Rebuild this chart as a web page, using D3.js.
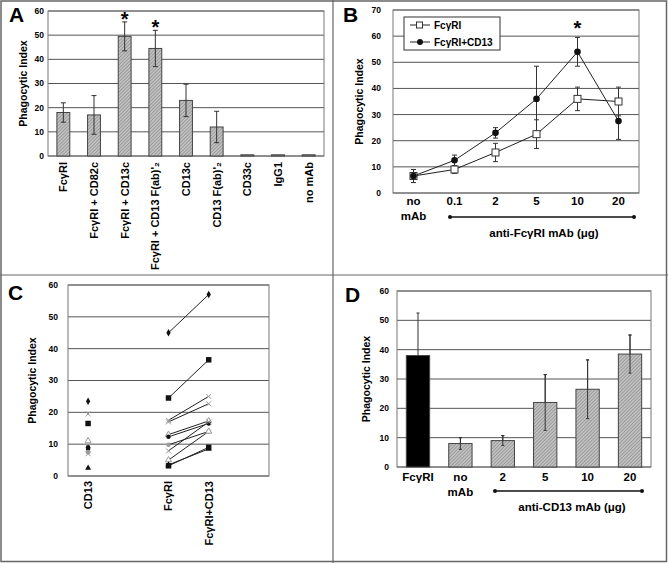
<!DOCTYPE html>
<html>
<head>
<meta charset="utf-8">
<script src="https://cdn.jsdelivr.net/npm/d3@7"></script>
<style>
  body { margin: 0; background: #fff; }
  svg { display: block; font-family: "Liberation Sans", Arial, sans-serif; font-weight: bold; }
</style>
</head>
<body>
<div id="chart"></div>
<script>
// ---- data ----
// panel A
const catsA = ["FcγRI", "FcγRI + CD82c", "FcγRI + CD13c", "FcγRI + CD13 F(ab)'₂", "CD13c", "CD13 F(ab)'₂", "CD33c", "IgG1", "no mAb"];
const valsA = [18, 17, 49.5, 44.5, 23, 12, 0.5, 0.5, 0.5];
const errA  = [4, 8, 6, 7.5, 6.7, 6.5, 0, 0, 0];
const starsA = [2, 3];

// panel B
const catsB = ["no mAb", "0.1", "2", "5", "10", "20"];
const fcgrB = [6.5, 9, 15.5, 22.5, 36, 35];
const fcgrErrB = [2.5, 1.5, 3.5, 5.5, 4.5, 5.5];
const cd13B = [6.5, 12.5, 23, 36, 54, 27.5];
const cd13ErrB = [2.5, 2, 2, 12.5, 5.5, 7];

// panel C
const slotsC = ["CD13", "", "FcγRI", "FcγRI+CD13", " "];
const cd13C = [23.5, 19.5, 16.5, 11, 9, 8.5, 7.5, 7, 2.5];
const cd13Sym = ["diamond", "x", "square", "tri-open", "circle", "circle", "circle-grey", "x", "triangle"];
const fcgrC = [45, 24.5, 17.5, 17, 13, 12.3, 9.8, 7.9, 5, 3.5, 3.2];
const fcgrCd13C = [57, 36.5, 25, 22.7, 17.3, 16.5, 14, 17, 14, 8.5, 9];
const pairSym = ["diamond", "square", "x", "x-grey", "tri-open", "circle", "circle-grey", "x", "tri-open", "triangle", "square"];

// panel D
const catsD = ["FcγRI", "no mAb", "2", "5", "10", "20"];
const valsD = [38, 8, 9, 22, 26.5, 38.5];
const errD  = [14.5, 2, 1.7, 9.5, 10, 6.5];

const W = 668, H = 563;
const svg = d3.select("#chart").append("svg").attr("width", W).attr("height", H);

const defs = svg.append("defs");
const pat = defs.append("pattern").attr("id", "hatch")
  .attr("width", 2.4).attr("height", 2.4)
  .attr("patternUnits", "userSpaceOnUse")
  .attr("patternTransform", "rotate(45)");
pat.append("rect").attr("width", 2.4).attr("height", 2.4).attr("fill", "#c0c0c0");
pat.append("line").attr("x1", 0).attr("y1", 0).attr("x2", 0).attr("y2", 2.4)
  .attr("stroke", "#858585").attr("stroke-width", 1.1);

// frame + dividers
svg.append("rect").attr("x", 1).attr("y", 1).attr("width", W - 2.5).attr("height", H - 2.5)
  .attr("fill", "#fff").attr("stroke", "#666").attr("stroke-width", 1.5);
svg.append("line").attr("x1", 333).attr("x2", 333).attr("y1", 0).attr("y2", H).attr("stroke", "#666").attr("stroke-width", 1.2);
svg.append("line").attr("x1", 0).attr("x2", W).attr("y1", 275).attr("y2", 275).attr("stroke", "#666").attr("stroke-width", 1.2);

function panelLetter(t, x, y) {
  svg.append("text").attr("x", x).attr("y", y).attr("font-size", 21).text(t);
}

// shared grid + ticks + y title
function yFrame(y, x0, x1, ticks, tickRight, titleX) {
  const g = svg.append("g");
  g.selectAll("line.grid").data(ticks).join("line")
    .attr("x1", x0).attr("x2", x1)
    .attr("y1", d => y(d)).attr("y2", d => y(d))
    .attr("stroke", "#555").attr("stroke-width", 1);
  g.append("rect").attr("x", x0).attr("y", y.range()[1]).attr("width", x1 - x0)
    .attr("height", y.range()[0] - y.range()[1])
    .attr("fill", "none").attr("stroke", "#777").attr("stroke-width", 1);
  g.selectAll("text.tick").data(ticks).join("text")
    .attr("x", tickRight).attr("y", d => y(d)).attr("dy", "0.35em")
    .attr("text-anchor", "end").attr("font-size", 8.5).text(d => d);
  const cy = (y.range()[0] + y.range()[1]) / 2;
  g.append("text").attr("transform", `translate(${titleX},${cy}) rotate(-90)`)
    .attr("text-anchor", "middle").attr("dy", "0.35em").attr("font-size", 10.5)
    .text("Phagocytic Index");
  return g;
}

function errBar(g, x, y, v, e, cap) {
  if (!e) return;
  g.append("line").attr("x1", x).attr("x2", x).attr("y1", y(v + e)).attr("y2", y(v - e))
    .attr("stroke", "#333").attr("stroke-width", 1);
  [v + e, v - e].forEach(t => g.append("line")
    .attr("x1", x - cap).attr("x2", x + cap).attr("y1", y(t)).attr("y2", y(t))
    .attr("stroke", "#333").attr("stroke-width", 1));
}

function bracket(x0, x1, yy, label, lx, ly) {
  svg.append("line").attr("x1", x0).attr("x2", x1).attr("y1", yy).attr("y2", yy)
    .attr("stroke", "#111").attr("stroke-width", 1.3);
  [x0, x1].forEach(x => svg.append("circle").attr("cx", x).attr("cy", yy).attr("r", 2).attr("fill", "#111"));
  svg.append("text").attr("x", lx).attr("y", ly).attr("dy", "0.35em")
    .attr("text-anchor", "middle").attr("font-size", 11.5).text(label);
}

// ---------- Panel A ----------
{
  const x = d3.scaleBand().domain(catsA).range([48, 324]).paddingInner(0.58).paddingOuter(0.29);
  const y = d3.scaleLinear().domain([0, 60]).range([156, 11]);
  const g = yFrame(y, 48, 324, d3.range(0, 61, 10), 44, 23);
  g.selectAll("rect.bar").data(valsA).join("rect")
    .attr("x", (d, i) => x(catsA[i])).attr("width", x.bandwidth())
    .attr("y", d => y(d)).attr("height", d => y(0) - y(d))
    .attr("fill", "url(#hatch)").attr("stroke", "#444").attr("stroke-width", 1);
  valsA.forEach((v, i) => errBar(g, x(catsA[i]) + x.bandwidth() / 2, y, v, errA[i], 2.5));
  starsA.forEach(i => g.append("text")
    .attr("x", x(catsA[i]) + x.bandwidth() / 2).attr("y", y(valsA[i] + errA[i]) + 4)
    .attr("text-anchor", "middle").attr("font-size", 20).text("*"));
  g.selectAll("text.cat").data(catsA).join("text")
    .attr("transform", d => `translate(${x(d) + x.bandwidth() / 2},162) rotate(-90)`)
    .attr("text-anchor", "end").attr("dy", "0.35em").attr("font-size", 11).text(d => d);
  panelLetter("A", 9, 22);
}

// ---------- Panel B ----------
{
  const x = d3.scalePoint().domain(catsB).range([393, 639]).padding(0.5);
  const y = d3.scaleLinear().domain([0, 70]).range([193, 10]);
  const g = yFrame(y, 393, 639, d3.range(0, 71, 10), 381, 359);
  const line = d3.line().x((d, i) => x(catsB[i])).y(d => y(d));
  g.append("path").datum(fcgrB).attr("d", line).attr("fill", "none").attr("stroke", "#222").attr("stroke-width", 1);
  g.append("path").datum(cd13B).attr("d", line).attr("fill", "none").attr("stroke", "#222").attr("stroke-width", 1);
  fcgrB.forEach((v, i) => errBar(g, x(catsB[i]), y, v, fcgrErrB[i], 2.5));
  cd13B.forEach((v, i) => errBar(g, x(catsB[i]), y, v, cd13ErrB[i], 2.5));
  g.selectAll("rect.sq").data(fcgrB).join("rect")
    .attr("x", (d, i) => x(catsB[i]) - 3.5).attr("y", d => y(d) - 3.5)
    .attr("width", 7).attr("height", 7).attr("fill", "#fff").attr("stroke", "#333");
  g.selectAll("circle.pt").data(cd13B).join("circle")
    .attr("cx", (d, i) => x(catsB[i])).attr("cy", d => y(d)).attr("r", 3.3).attr("fill", "#111");
  g.append("text").attr("x", x("10")).attr("y", 35).attr("text-anchor", "middle").attr("font-size", 20).text("*");
  // legend
  const lg = g.append("g").attr("transform", "translate(404,17)");
  lg.append("rect").attr("width", 96).attr("height", 33).attr("fill", "#fff").attr("stroke", "#333").attr("stroke-width", 1);
  [["FcγRI", 8], ["FcγRI+CD13", 25]].forEach(([t, yy], k) => {
    lg.append("line").attr("x1", 6).attr("x2", 26).attr("y1", yy).attr("y2", yy).attr("stroke", "#222");
    if (k === 0) lg.append("rect").attr("x", 12.5).attr("y", yy - 3).attr("width", 6).attr("height", 6).attr("fill", "#fff").attr("stroke", "#333");
    else lg.append("circle").attr("cx", 16).attr("cy", yy).attr("r", 3).attr("fill", "#111");
    lg.append("text").attr("x", 30).attr("y", yy).attr("dy", "0.35em").attr("font-size", 10).text(t);
  });
  catsB.forEach(c => {
    if (c === "no mAb") {
      g.append("text").attr("x", x(c)).attr("y", 201).attr("dy", "0.35em").attr("text-anchor", "middle").attr("font-size", 11.5).text("no");
      g.append("text").attr("x", x(c)).attr("y", 216).attr("dy", "0.35em").attr("text-anchor", "middle").attr("font-size", 11.5).text("mAb");
    } else {
      g.append("text").attr("x", x(c)).attr("y", 201).attr("dy", "0.35em").attr("text-anchor", "middle").attr("font-size", 11.5).text(c);
    }
  });
  bracket(450, 634, 217, "anti-FcγRI mAb (μg)", 544, 233);
  panelLetter("B", 343, 22);
}

// ---------- Panel C ----------
{
  const x = d3.scaleBand().domain(slotsC).range([68, 269]);
  const cx = c => x(c) + x.bandwidth() / 2;
  const y = d3.scaleLinear().domain([0, 60]).range([476, 285]);
  const g = yFrame(y, 68, 269, d3.range(0, 61, 10), 58, 32);
  function sym(sel, kind, px, py) {
    const grey = kind.includes("grey") || kind === "x" || kind === "tri-open";
    const col = grey ? "#999" : "#111";
    if (kind.startsWith("x")) {
      sel.append("path").attr("d", `M${px - 2.5},${py - 2.5}L${px + 2.5},${py + 2.5}M${px - 2.5},${py + 2.5}L${px + 2.5},${py - 2.5}`)
        .attr("stroke", col).attr("stroke-width", 1);
      return;
    }
    const type = { diamond: d3.symbolDiamond, square: d3.symbolSquare, triangle: d3.symbolTriangle,
      "tri-open": d3.symbolTriangle, circle: d3.symbolCircle, "circle-grey": d3.symbolCircle }[kind];
    const p = sel.append("path").attr("d", d3.symbol().type(type).size(kind === "square" ? 30 : 16)())
      .attr("transform", `translate(${px},${py})`);
    if (kind === "tri-open") p.attr("fill", "#fff").attr("stroke", col);
    else p.attr("fill", col);
  }
  fcgrC.forEach((v, i) => {
    g.append("line").attr("x1", cx("FcγRI")).attr("x2", cx("FcγRI+CD13"))
      .attr("y1", y(v)).attr("y2", y(fcgrCd13C[i])).attr("stroke", "#222").attr("stroke-width", 1);
  });
  fcgrC.forEach((v, i) => {
    sym(g, pairSym[i], cx("FcγRI"), y(v));
    sym(g, pairSym[i], cx("FcγRI+CD13"), y(fcgrCd13C[i]));
  });
  cd13C.forEach((v, i) => sym(g, cd13Sym[i], cx("CD13"), y(v)));
  ["CD13", "FcγRI", "FcγRI+CD13"].forEach(c => g.append("text")
    .attr("transform", `translate(${cx(c)},481) rotate(-90)`)
    .attr("text-anchor", "end").attr("dy", "0.35em").attr("font-size", 11).text(c));
  panelLetter("C", 8, 300);
}

// ---------- Panel D ----------
{
  const x = d3.scaleBand().domain(catsD).range([397, 651]).paddingInner(0.45).paddingOuter(0.22);
  const y = d3.scaleLinear().domain([0, 60]).range([467, 291]);
  const g = yFrame(y, 397, 651, d3.range(0, 61, 10), 389, 366);
  valsD.forEach((v, i) => errBar(g, x(catsD[i]) + x.bandwidth() / 2, y, v, errD[i], 1.5));
  g.selectAll("rect.bar").data(valsD).join("rect")
    .attr("x", (d, i) => x(catsD[i])).attr("width", x.bandwidth())
    .attr("y", d => y(d)).attr("height", d => y(0) - y(d))
    .attr("fill", (d, i) => i === 0 ? "#000" : "url(#hatch)")
    .attr("stroke", "#444").attr("stroke-width", 1);
  // error bars over the hatched bars (lower half hidden by the black bar)
  valsD.forEach((v, i) => { if (i > 0) errBar(g, x(catsD[i]) + x.bandwidth() / 2, y, v, errD[i], 1.5); });
  catsD.forEach(c => {
    const px = x(c) + x.bandwidth() / 2;
    if (c === "no mAb") {
      g.append("text").attr("x", px).attr("y", 477).attr("dy", "0.35em").attr("text-anchor", "middle").attr("font-size", 11.5).text("no");
      g.append("text").attr("x", px).attr("y", 492).attr("dy", "0.35em").attr("text-anchor", "middle").attr("font-size", 11.5).text("mAb");
    } else {
      g.append("text").attr("x", px).attr("y", 477).attr("dy", "0.35em").attr("text-anchor", "middle").attr("font-size", 11.5).text(c);
    }
  });
  bracket(495, 642, 491, "anti-CD13 mAb (μg)", 572, 507);
  panelLetter("D", 345, 302);
}
</script>
</body>
</html>
